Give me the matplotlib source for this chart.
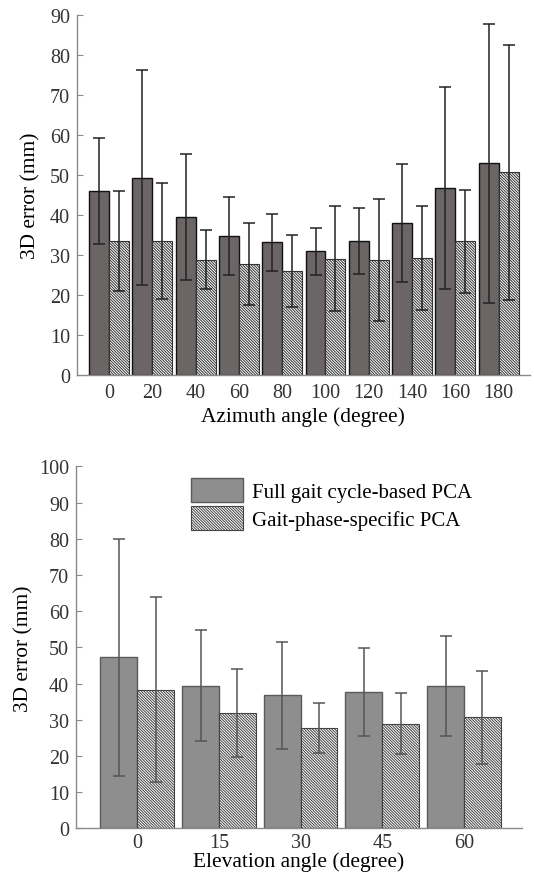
import matplotlib
matplotlib.use('Agg')
import matplotlib.pyplot as plt
import numpy as np

plt.rcParams['font.family'] = ['Liberation Serif', 'DejaVu Serif']
plt.rcParams['hatch.linewidth'] = 0.7

# ---- data: azimuth (top panel) ----
azimuth = [0, 20, 40, 60, 80, 100, 120, 140, 160, 180]
az_full_mean = [46.0, 49.3, 39.4, 34.7, 33.1, 30.9, 33.4, 37.9, 46.8, 52.9]
az_full_sd = [13.3, 26.9, 15.7, 9.8, 7.1, 5.9, 8.2, 14.7, 25.2, 34.8]
az_phase_mean = [33.4, 33.4, 28.8, 27.7, 26.0, 29.0, 28.8, 29.2, 33.4, 50.6]
az_phase_sd = [12.5, 14.5, 7.4, 10.3, 8.9, 13.1, 15.2, 13.0, 12.8, 31.9]

# ---- data: elevation (bottom panel) ----
elevation = [0, 15, 30, 45, 60]
el_full_mean = [47.2, 39.4, 36.8, 37.7, 39.4]
el_full_sd = [32.7, 15.4, 14.8, 12.2, 13.8]
el_phase_mean = [38.3, 31.9, 27.7, 28.9, 30.7]
el_phase_sd = [25.6, 12.2, 6.8, 8.4, 12.8]

labels = ['Full gait cycle-based PCA', 'Gait-phase-specific PCA']
TICK_FS = 14.5
LABEL_FS = 15.4
HATCH = '\\' * 12


def style_axis(ax, ylim, yticks, xpad):
    for s in ['top', 'right']:
        ax.spines[s].set_visible(False)
    for s in ['left', 'bottom']:
        ax.spines[s].set_color('#8a8a8a')
        ax.spines[s].set_linewidth(1.0)
    ax.set_ylim(*ylim)
    ax.set_yticks(yticks)
    ax.tick_params(axis='y', direction='in', length=4, color='#8a8a8a',
                   labelsize=TICK_FS, pad=5, labelcolor='#333333')
    ax.tick_params(axis='x', length=0, labelsize=TICK_FS, pad=xpad,
                   labelcolor='#333333')


fig = plt.figure(figsize=(5.34, 8.79), dpi=100)

# 上图: 方位角
ax1 = fig.add_axes([0.1442, 0.5722, 0.848, 0.410])
x = np.arange(len(azimuth))
w = 0.46
ax1.bar(x - w / 2, az_full_mean, w, color='#6b6565', edgecolor='#111111',
        linewidth=1.0, zorder=2)
ax1.bar(x + w / 2, az_phase_mean, w, color='white', edgecolor='#333333',
        linewidth=0.8, hatch=HATCH, zorder=2)
ax1.errorbar(x - w / 2, az_full_mean, yerr=az_full_sd, fmt='none',
             ecolor='#222222', elinewidth=1.1, capsize=4, capthick=1.1, zorder=3)
ax1.errorbar(x + w / 2, az_phase_mean, yerr=az_phase_sd, fmt='none',
             ecolor='#222222', elinewidth=1.1, capsize=4, capthick=1.1, zorder=3)
ax1.set_xlim(-0.74, len(azimuth) - 1 + 0.72)
ax1.set_xticks(x)
ax1.set_xticklabels([str(a) for a in azimuth])
style_axis(ax1, (0, 90), range(0, 91, 10), xpad=6)
ax1.set_xlabel('Azimuth angle (degree)', fontsize=LABEL_FS, labelpad=3)
ax1.set_ylabel('3D error (mm)', fontsize=LABEL_FS, labelpad=7)

# 下图: 仰角
ax2 = fig.add_axes([0.1423, 0.0565, 0.835, 0.4118])
x2 = np.arange(len(elevation))
w2 = 0.45
ax2.bar(x2 - w2 / 2, el_full_mean, w2, color='#8e8e8e', edgecolor='#5a5a5a',
        linewidth=1.0, zorder=2, label=labels[0])
ax2.bar(x2 + w2 / 2, el_phase_mean, w2, color='white', edgecolor='#444444',
        linewidth=0.8, hatch=HATCH, zorder=2, label=labels[1])
ax2.errorbar(x2 - w2 / 2, el_full_mean, yerr=el_full_sd, fmt='none',
             ecolor='#555555', elinewidth=1.1, capsize=4, capthick=1.1, zorder=3)
ax2.errorbar(x2 + w2 / 2, el_phase_mean, yerr=el_phase_sd, fmt='none',
             ecolor='#555555', elinewidth=1.1, capsize=4, capthick=1.1, zorder=3)
ax2.set_xlim(-0.75, len(elevation) - 1 + 0.71)
ax2.set_xticks(x2)
ax2.set_xticklabels([str(e) for e in elevation])
style_axis(ax2, (0, 100), range(0, 101, 10), xpad=3)
ax2.set_xlabel('Elevation angle (degree)', fontsize=LABEL_FS, labelpad=0)
ax2.set_ylabel('3D error (mm)', fontsize=LABEL_FS, labelpad=4)
ax2.legend(loc='upper left', bbox_to_anchor=(0.258, 0.968), frameon=False,
           fontsize=15, borderpad=0, borderaxespad=0, handlelength=2.5,
           handleheight=1.4, handletextpad=0.45, labelspacing=0.2)

fig.savefig('out.png', dpi=100)
